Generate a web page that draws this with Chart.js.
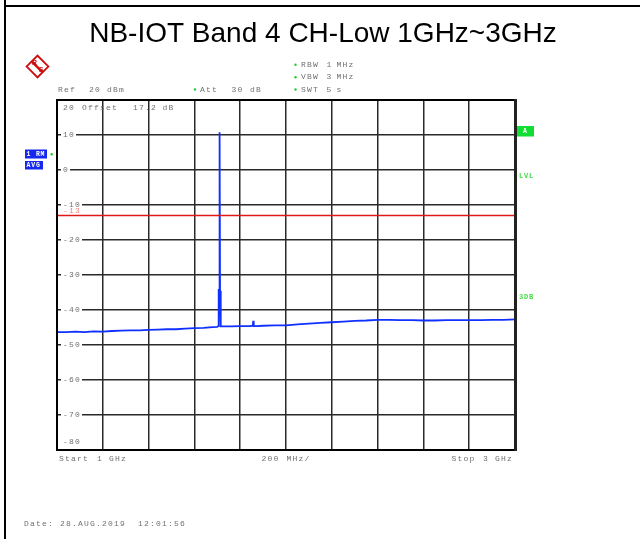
<!DOCTYPE html>
<html>
<head>
<meta charset="utf-8">
<script src="https://cdn.jsdelivr.net/npm/chart.js@4/dist/chart.umd.min.js"></script>
<style>
html,body{margin:0;padding:0;background:#fff;}
#wrap{position:relative;width:640px;height:539px;}
</style>
</head>
<body>
<div id="wrap"><canvas id="c" width="640" height="539"></canvas></div>
<script>
// ---- data ----
const titleText = "NB-IOT Band 4 CH-Low 1GHz~3GHz";
const freqMHz = [1000,1040,1080,1120,1160,1200,1240,1280,1320,1360,1400,1440,1480,1520,1560,1600,1640,1680,1700,1704,1706,1708,1710,1712,1714,1716,1730,1760,1800,1840,1855,1857,1859,1870,1900,1950,2000,2050,2100,2150,2200,2250,2300,2350,2400,2450,2500,2550,2600,2650,2700,2750,2800,2850,2900,2950,3000];
const levelDbm = [-46.3,-46.3,-46.2,-46.3,-46.1,-46.2,-46.0,-45.9,-45.8,-45.8,-45.7,-45.6,-45.5,-45.5,-45.3,-45.2,-45.1,-44.9,-44.8,-44.6,-34.0,-40.0,10.8,-36.0,-34.5,-44.7,-44.7,-44.7,-44.6,-44.6,-44.5,-43.1,-44.6,-44.6,-44.5,-44.4,-44.4,-44.1,-43.9,-43.7,-43.5,-43.3,-43.1,-43.0,-42.8,-42.8,-42.9,-42.9,-43.0,-43.0,-42.9,-42.9,-42.9,-42.9,-42.8,-42.8,-42.7];
const limitDbm = -13;
const freqRange = [1000, 3000];
const levelRange = [-80, 20];
const yTickLabels = [20,10,0,-10,-20,-30,-40,-50,-60,-70,-80];

const MONO = "8px 'Liberation Mono', 'DejaVu Sans Mono', monospace";

function txt(ctx, s, x, y, color, font, spacing){
  ctx.save();
  ctx.font = font || MONO;
  ctx.fillStyle = color || '#707070';
  ctx.textBaseline = 'middle';
  ctx.textAlign = 'left';
  ctx.letterSpacing = (spacing === undefined ? 1.2 : spacing) + 'px';
  ctx.fillText(s, x, y);
  const w = ctx.measureText(s).width;
  ctx.restore();
  return w;
}

const decor = {
  id: 'decor',
  beforeDatasetsDraw(chart){
    const ctx = chart.ctx, a = chart.chartArea, ys = chart.scales.y;
    ctx.save();
    ctx.font = MONO;
    ctx.letterSpacing = '1.2px';
    yTickLabels.forEach(v => {
      let y = ys.getPixelForValue(v);
      if (v === levelRange[1]) y = a.top + 8;
      if (v === levelRange[0]) y = a.bottom - 8;
      const s = String(v);
      const w = ctx.measureText(s).width;
      ctx.fillStyle = '#fff';
      ctx.fillRect(a.left + 4, y - 3.5, w + 3, 7);
      txt(ctx, s, a.left + 6, y, '#707070');
    });
    const yl = ys.getPixelForValue(limitDbm);
    txt(ctx, String(limitDbm), a.left + 6, yl - 5, '#f08080');
    txt(ctx, 'Offset', 82, 108, '#707070');
    txt(ctx, '17.2', 133, 108, '#707070');
    txt(ctx, 'dB', 162.5, 108, '#707070');
    ctx.restore();
  },
  afterDraw(chart){
    const ctx = chart.ctx, a = chart.chartArea;
    ctx.save();
    ctx.fillStyle = '#000';
    ctx.fillRect(4, 0, 2, 539);
    ctx.fillRect(4, 5, 636, 2);
    ctx.font = "28px 'Liberation Sans', Arial, sans-serif";
    ctx.fillStyle = '#000';
    ctx.textAlign = 'center';
    ctx.textBaseline = 'alphabetic';
    ctx.fillText(titleText, 323, 42);
    ctx.strokeStyle = '#000';
    ctx.lineWidth = 2;
    ctx.strokeRect(a.left, a.top, a.right - a.left, a.bottom - a.top);
    ctx.fillStyle = '#222';
    ctx.fillRect(a.right - 1, a.top - 1, 3, a.bottom - a.top + 2);

    // logo (diamond)
    const cx = 37.5, cy = 66.5, r = 11;
    ctx.save();
    ctx.translate(cx, cy);
    ctx.rotate(Math.PI / 4);
    ctx.strokeStyle = '#cc1111';
    ctx.lineWidth = 1.8;
    ctx.strokeRect(-r * 0.7, -r * 0.7, r * 1.4, r * 1.4);
    ctx.beginPath();
    ctx.moveTo(-r * 0.7, 0.5); ctx.lineTo(r * 0.7, 0.5);
    ctx.lineWidth = 2.4;
    ctx.stroke();
    ctx.restore();
    ctx.fillStyle = '#cc1111';
    ctx.font = "bold 7px 'Liberation Sans', sans-serif";
    ctx.textAlign = 'center';
    ctx.textBaseline = 'middle';
    ctx.fillText('R', cx - 3, cy - 3.5);
    ctx.fillText('S', cx + 3.5, cy + 4);

    const grey = '#707070', green = '#22cc22';
    txt(ctx, 'Ref', 58, 89.5, grey);
    txt(ctx, '20', 89, 89.5, grey);
    txt(ctx, 'dBm', 107, 89.5, grey);
    ctx.fillStyle = green;
    [[195, 89.5], [295.5, 64.7], [295.5, 77.3], [295.5, 89.5], [51.7, 154.3]].forEach(p => {
      ctx.beginPath(); ctx.arc(p[0], p[1], 1.2, 0, Math.PI * 2); ctx.fill();
    });
    txt(ctx, 'Att', 200, 89.5, grey);
    txt(ctx, '30', 231.5, 89.5, grey);
    txt(ctx, 'dB', 250, 89.5, grey);
    txt(ctx, 'RBW', 301, 64.7, grey);
    txt(ctx, '1', 326.5, 64.7, grey);
    txt(ctx, 'MHz', 336.5, 64.7, grey);
    txt(ctx, 'VBW', 301, 77.3, grey);
    txt(ctx, '3', 326.5, 77.3, grey);
    txt(ctx, 'MHz', 336.5, 77.3, grey);
    txt(ctx, 'SWT', 301, 89.5, grey);
    txt(ctx, '5', 326.5, 89.5, grey);
    txt(ctx, 's', 336.5, 89.5, grey);

    ctx.fillStyle = '#1428f0';
    ctx.fillRect(25, 149.5, 22, 9);
    ctx.fillRect(25, 161, 18, 8.5);
    const boxFont = "bold 6.5px 'Liberation Mono', monospace";
    txt(ctx, '1 RM', 26.5, 154.2, '#fff', boxFont, 0.8);
    txt(ctx, 'AVG', 26.5, 165.3, '#fff', boxFont, 0.8);

    ctx.fillStyle = '#11dd33';
    ctx.fillRect(517, 126, 17, 10.5);
    txt(ctx, 'A', 523, 131.3, '#fff', boxFont, 0);
    txt(ctx, 'LVL', 519, 176, '#44dd44', "bold 7px 'Liberation Mono', monospace", 0.8);
    txt(ctx, '3DB', 519, 297, '#44dd44', "bold 7px 'Liberation Mono', monospace", 0.8);

    txt(ctx, 'Start', 59, 459, grey);
    txt(ctx, '1', 97, 459, grey);
    txt(ctx, 'GHz', 109, 459, grey);
    txt(ctx, '200', 261.5, 459, grey);
    txt(ctx, 'MHz/', 286.5, 459, grey);
    txt(ctx, 'Stop', 451.5, 459, grey);
    txt(ctx, '3', 483, 459, grey);
    txt(ctx, 'GHz', 495, 459, grey);
    txt(ctx, 'Date: 28.AUG.2019  12:01:56', 24, 524, grey);
    ctx.restore();
  }
};

new Chart(document.getElementById('c'), {
  type: 'line',
  data: {
    datasets: [
      {
        data: freqMHz.map((f, i) => ({x: f, y: levelDbm[i]})),
        borderColor: '#1030ff',
        borderWidth: 1.8,
        pointRadius: 0,
        tension: 0,
        order: 2
      },
      {
        data: [{x: freqRange[0], y: limitDbm}, {x: freqRange[1], y: limitDbm}],
        borderColor: '#e01818',
        borderWidth: 1.4,
        pointRadius: 0,
        order: 1
      }
    ]
  },
  options: {
    responsive: false,
    animation: false,
    devicePixelRatio: 1,
    layout: {padding: {left: 57, top: 100, right: 125, bottom: 89}},
    plugins: {legend: {display: false}, tooltip: {enabled: false}, title: {display: false}},
    scales: {
      x: {
        type: 'linear', min: freqRange[0], max: freqRange[1],
        ticks: {display: false, stepSize: 200},
        grid: {color: '#2a2a2a', lineWidth: 1.5, drawTicks: false},
        border: {display: false}
      },
      y: {
        type: 'linear', min: levelRange[0], max: levelRange[1],
        ticks: {display: false, stepSize: 10},
        grid: {color: '#2a2a2a', lineWidth: 1.5, drawTicks: false},
        border: {display: false}
      }
    }
  },
  plugins: [decor]
});
</script>
</body>
</html>
